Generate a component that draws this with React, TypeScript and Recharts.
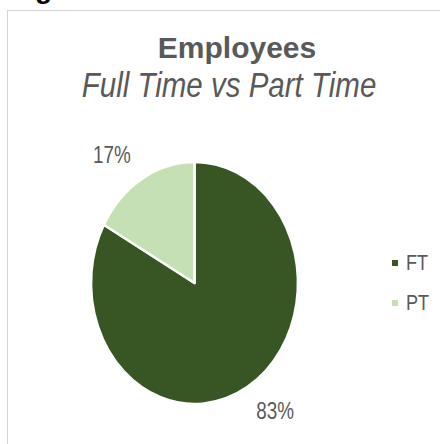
import React from 'react';
import { PieChart, Pie, Cell, Legend } from 'recharts';

const categories = ['FT', 'PT'];
const values = [83, 17];
const colors = ['#375623', '#C5E0B4'];
const titleText = 'Employees';
const subtitleText = 'Full Time vs Part Time';

const data = categories.map((name, i) => ({ name, value: values[i] }));

const SQUASH = 0.855;
const RAD = Math.PI / 180;
const FONT = '"Liberation Sans", Arial, sans-serif';
const NARROW = 0.82;
const TEXT = '#595959';

function EllipseSector(props: any) {
  const { cx, cy, outerRadius, startAngle, endAngle, fill } = props;
  const rx = outerRadius * SQUASH;
  const ry = outerRadius;
  const pt = (a: number) => [cx + rx * Math.cos(-a * RAD), cy + ry * Math.sin(-a * RAD)];
  const [x1, y1] = pt(startAngle);
  const [x2, y2] = pt(endAngle);
  const delta = Math.abs(endAngle - startAngle);
  const large = delta > 180 ? 1 : 0;
  const sweep = startAngle > endAngle ? 1 : 0;
  const d = `M ${cx} ${cy} L ${x1} ${y1} A ${rx} ${ry} 0 ${large} ${sweep} ${x2} ${y2} Z`;
  return <path d={d} fill={fill} stroke="#ffffff" strokeWidth={2.5} strokeLinejoin="round" />;
}

function renderLabel(props: any) {
  const { cx, cy, midAngle, outerRadius, percent } = props;
  const R = outerRadius + 28;
  const c = Math.cos(-midAngle * RAD);
  const s = Math.sin(-midAngle * RAD);
  const x = cx + R * SQUASH * c + (c >= 0 ? -3 : 1);
  const y = cy + R * s + 8;
  return (
    <text
      transform={`translate(${x},${y}) scale(${NARROW},1)`}
      x={0}
      y={0}
      textAnchor={c >= 0 ? 'start' : 'end'}
      fill={TEXT}
      fontSize={23}
      fontFamily={FONT}
    >
      {`${Math.round(percent * 100)}%`}
    </text>
  );
}

function renderLegend(props: any) {
  const { payload } = props;
  return (
    <div>
      {(payload || []).map((entry: any, i: number) => (
        <div key={i} style={{ height: 40, display: 'flex', alignItems: 'center' }}>
          <span style={{ width: 6, height: 6, background: entry.color, marginRight: 7.7, flex: 'none' }} />
          <span
            style={{
              fontFamily: FONT,
              fontSize: 22,
              color: TEXT,
              lineHeight: '40px',
              display: 'inline-block',
              transform: `scaleX(${NARROW})`,
              transformOrigin: 'left center',
              whiteSpace: 'nowrap',
            }}
          >
            {entry.value}
          </span>
        </div>
      ))}
    </div>
  );
}

export default function App() {
  return (
    <div style={{ position: 'absolute', left: 0, top: 0, width: 440, height: 444, overflow: 'hidden', background: '#fff' }}>
      <div
        style={{
          position: 'absolute',
          left: 35,
          top: -25,
          fontFamily: FONT,
          fontWeight: 'bold',
          fontSize: 28,
          lineHeight: '28px',
          color: '#000',
        }}
      >
        g
      </div>
      <div
        style={{
          position: 'absolute',
          left: 7,
          top: 10,
          width: 460,
          height: 460,
          border: '1px solid #d4d4d4',
          boxSizing: 'border-box',
        }}
      />
      <div style={{ position: 'absolute', left: 0, top: 0 }}>
        <PieChart width={440} height={444} margin={{ top: 0, right: 0, bottom: 0, left: 0 }}>
          <text x={237} y={57.7} textAnchor="middle" fill={TEXT} fontSize={30} fontWeight="bold" fontFamily={FONT}>
            {titleText}
          </text>
          <text
            transform={`translate(229,96.7) scale(${NARROW},1)`}
            x={0}
            y={0}
            textAnchor="middle"
            fill={TEXT}
            fontSize={36}
            fontStyle="italic"
            fontFamily={FONT}
          >
            {subtitleText}
          </text>
          <Pie
            data={data}
            dataKey="value"
            nameKey="name"
            cx={194.5}
            cy={283}
            outerRadius={121}
            startAngle={90}
            endAngle={-270}
            stroke="#ffffff"
            strokeWidth={2.5}
            shape={EllipseSector}
            label={renderLabel}
            labelLine={false}
            isAnimationActive={false}
          >
            {data.map((d, i) => (
              <Cell key={d.name} fill={colors[i]} />
            ))}
          </Pie>
          <Legend
            layout="vertical"
            align="right"
            verticalAlign="middle"
            content={renderLegend}
            wrapperStyle={{ position: 'absolute', left: 392, top: 243, width: 48 }}
          />
        </PieChart>
      </div>
    </div>
  );
}
